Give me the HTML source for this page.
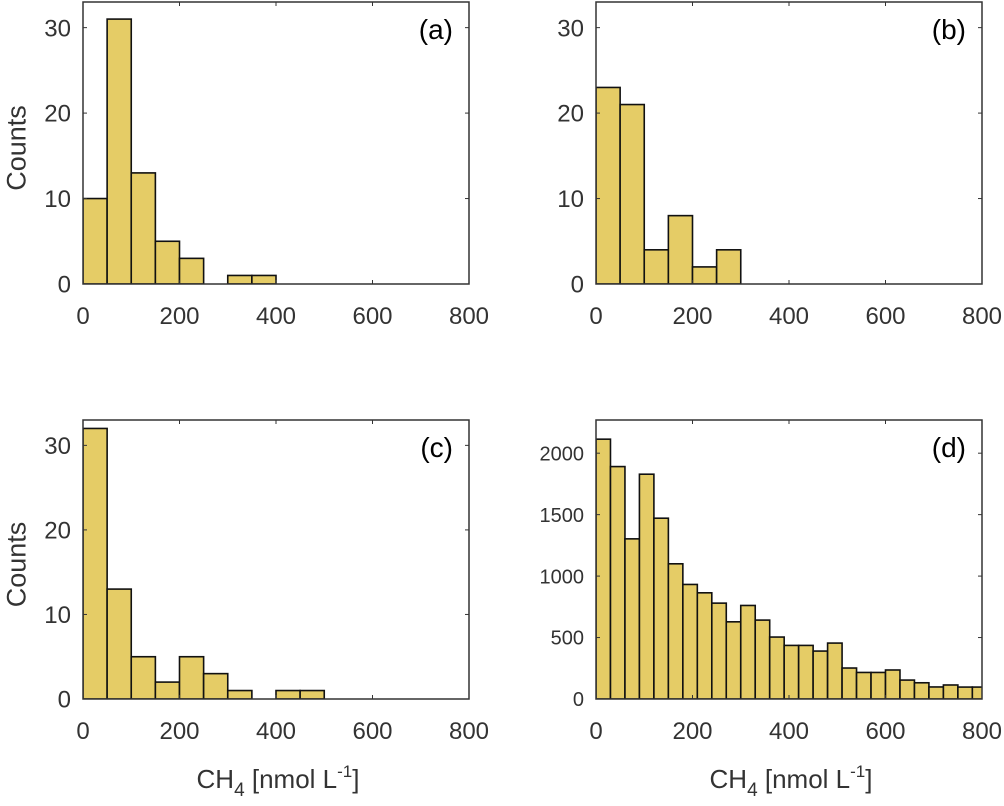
<!DOCTYPE html>
<html><head><meta charset="utf-8"><style>
body{margin:0;background:#fff;}
svg{display:block;font-family:"Liberation Sans",Arial,sans-serif;}
</style></head><body>
<svg id="chart" width="1004" height="806" viewBox="0 0 1004 806"></svg>
<script>
const binWidthA = 50, binWidthB = 50, binWidthC = 50, binWidthD = 30;
const countsA = [10,31,13,5,3,0,1,1];
const countsB = [23,21,4,8,2,4];
const countsC = [32,13,5,2,5,3,1,0,1,1];
const countsD = [2114,1891,1303,1829,1471,1100,932,864,780,628,761,642,504,436,436,390,455,252,216,216,236,154,132,98,114,97,97];
const xTicks = [0,200,400,600,800];
const yTicksSmall = [0,10,20,30];
const yTicksD = [0,500,1000,1500,2000];
const panelLabels = ['(a)','(b)','(c)','(d)'];

const NS='http://www.w3.org/2000/svg';
const svg=document.getElementById('chart');
function mk(tag,attrs,parent){const e=document.createElementNS(NS,tag);for(const k in attrs)e.setAttribute(k,attrs[k]);(parent||svg).appendChild(e);return e;}

const panels=[
 {x0:83,x1:469,y0:2,y1:284,counts:countsA,bw:binWidthA,ymax:33,yt:yTicksSmall,ylab:true,xlab:false,name:'a'},
 {x0:596,x1:982,y0:2,y1:284,counts:countsB,bw:binWidthB,ymax:33,yt:yTicksSmall,ylab:false,xlab:false,name:'b'},
 {x0:83,x1:469,y0:420,y1:699,counts:countsC,bw:binWidthC,ymax:33,yt:yTicksSmall,ylab:true,xlab:true,name:'c'},
 {x0:596,x1:982,y0:420,y1:699,counts:countsD,bw:binWidthD,ymax:2270,yt:yTicksD,ylab:false,xlab:true,name:'d'}
];
panels.forEach((p,pi)=>{
  const g=mk('g',{});
  
  
  const X=v=>p.x0+(p.x1-p.x0)*v/800;
  const Y=v=>p.y1-(p.y1-p.y0)*v/p.ymax;
  const clip=mk('clipPath',{id:'clip'+pi},g);
  mk('rect',{x:p.x0,y:p.y0,width:p.x1-p.x0,height:p.y1-p.y0},clip);
  const bars=mk('g',{'clip-path':'url(#clip'+pi+')'},g);
  p.counts.forEach((c,i)=>{
    if(c<=0)return;
    const r=mk('rect',{x:X(i*p.bw),y:Y(c),width:X((i+1)*p.bw)-X(i*p.bw),height:Y(0)-Y(c),fill:'#e5cc66',stroke:'#111','stroke-width':1.6},bars);
    
    
  });
  const box=mk('rect',{x:p.x0,y:p.y0,width:p.x1-p.x0,height:p.y1-p.y0,fill:'none',stroke:'#333','stroke-width':1.5},g);
  
  
  xTicks.forEach(t=>{
    mk('line',{x1:X(t),x2:X(t),y1:p.y1,y2:p.y1-4,stroke:'#333'},g);
    mk('line',{x1:X(t),x2:X(t),y1:p.y0,y2:p.y0+4,stroke:'#333'},g);
    const tx=mk('text',{x:X(t),y:p.y1+40,'text-anchor':'middle','font-size':24,fill:'#333'},g);
    tx.textContent=t;
    
    
  });
  p.yt.forEach(t=>{
    mk('line',{x1:p.x0,x2:p.x0+4,y1:Y(t),y2:Y(t),stroke:'#333'},g);
    mk('line',{x1:p.x1,x2:p.x1-4,y1:Y(t),y2:Y(t),stroke:'#333'},g);
    const fs=p.name==='d'?20:24;
    const tx=mk('text',{x:p.x0-12,y:Y(t)+fs*0.36,'text-anchor':'end','font-size':fs,fill:'#333'},g);
    tx.textContent=t;
    
    
  });
  const pl=mk('text',{x:p.x1-16,y:p.y0+37,'text-anchor':'end','font-size':28,fill:'#000'},g);
  pl.textContent=panelLabels[pi];
  
  
  if(p.ylab){
    const cy=(p.y0+p.y1)/2+5;
    const yl=mk('text',{x:16,y:cy,'text-anchor':'middle','font-size':27,fill:'#333',transform:'rotate(-90 16 '+cy+')'},g);
    yl.setAttribute('dy','0.35em');
    yl.textContent='Counts';
    
    
  }
  if(p.xlab){
    const xl=mk('text',{x:(p.x0+p.x1)/2+2,y:788,'text-anchor':'middle','font-size':26,fill:'#333'},g);
    xl.innerHTML='CH<tspan font-size="19" dy="8">4</tspan><tspan dy="-8"> [nmol L</tspan><tspan font-size="17" dy="-11">-1</tspan><tspan dy="11">]</tspan>';
    
    
  }
});
</script>
</body></html>
